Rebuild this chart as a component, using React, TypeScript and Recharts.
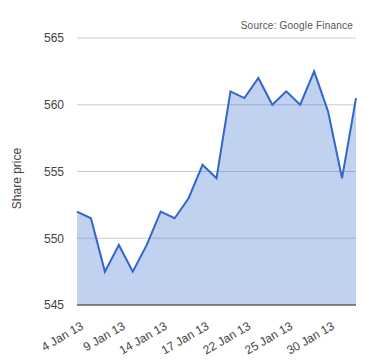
import type { ReactElement } from 'react';
import { Area, AreaChart, CartesianGrid, XAxis, YAxis } from 'recharts';

// Daily closing share price, January 2013 (Google Finance)
const DATES = [
  '4 Jan 13', '7 Jan 13', '8 Jan 13', '9 Jan 13', '10 Jan 13', '11 Jan 13',
  '14 Jan 13', '15 Jan 13', '16 Jan 13', '17 Jan 13', '18 Jan 13', '21 Jan 13',
  '22 Jan 13', '23 Jan 13', '24 Jan 13', '25 Jan 13', '28 Jan 13', '29 Jan 13',
  '30 Jan 13', '31 Jan 13', '1 Feb 13',
];
const PRICES = [
  552, 551.5, 547.5, 549.5, 547.5, 549.5, 552, 551.5, 553, 555.5, 554.5, 561,
  560.5, 562, 560, 561, 560, 562.5, 559.5, 554.5, 560.5,
];
const Y_TICKS = [545, 550, 555, 560, 565];

const FONT = 'Arial, "Liberation Sans", sans-serif';
const LINE = '#3366cc';

export default function App(): ReactElement {
  const data = DATES.map((date, i) => ({ date, price: PRICES[i] }));

  return (
    <div
      style={{
        position: 'absolute',
        left: 0,
        top: 0,
        width: 380,
        height: 360,
        background: '#fff',
        fontFamily: FONT,
      }}
    >
      <div
        style={{
          position: 'absolute',
          right: 27,
          top: 20,
          fontSize: 10,
          color: '#555',
          letterSpacing: 0.2,
        }}
      >
        Source: Google Finance
      </div>
      <AreaChart
        width={380}
        height={360}
        data={data}
        margin={{ top: 38, right: 24, bottom: 0, left: 0 }}
      >
        <CartesianGrid vertical={false} stroke="#cccccc" />
        <XAxis
          dataKey="date"
          interval={2}
          tickLine={false}
          axisLine={{ stroke: '#333', strokeWidth: 1 }}
          height={55}
          angle={-30}
          textAnchor="end"
          tick={{ fontSize: 12, fill: '#444', fontFamily: FONT, dx: 3 }}
          tickMargin={10}
        />
        <YAxis
          domain={[545, 565]}
          ticks={Y_TICKS}
          width={77}
          axisLine={false}
          tickLine={false}
          tickMargin={13}
          tickSize={0}
          tick={{ fontSize: 12, fill: '#444', fontFamily: FONT }}
          label={{
            value: 'Share price',
            angle: -90,
            position: 'insideLeft',
            dx: 12,
            dy: 7,
            style: { textAnchor: 'middle', fontSize: 12, fill: '#444', fontFamily: FONT },
          }}
        />
        <Area
          type="linear"
          dataKey="price"
          stroke={LINE}
          strokeWidth={2}
          fill={LINE}
          fillOpacity={0.3}
          baseValue={545}
          isAnimationActive={false}
        />
      </AreaChart>
    </div>
  );
}
